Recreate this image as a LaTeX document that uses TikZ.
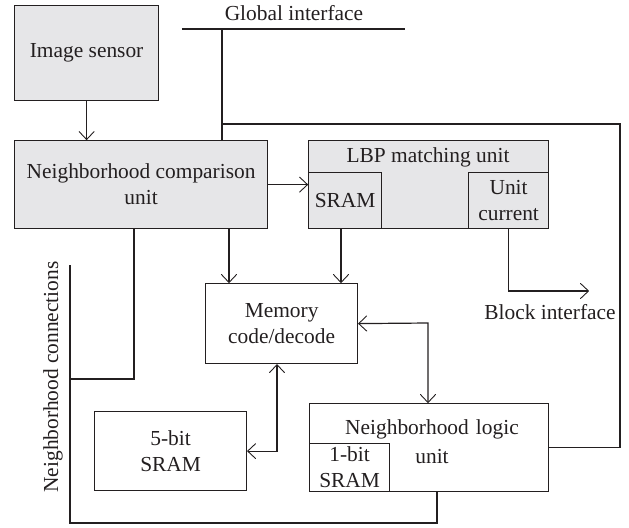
\documentclass[tikz,border=0pt]{standalone}
\usepackage{fontspec}
\setmainfont{Liberation Serif}
\usetikzlibrary{arrows.meta}
\definecolor{boxfill}{RGB}{230,230,232}
\definecolor{ink}{RGB}{35,31,32}
\begin{document}
\begin{tikzpicture}[x=0.5pt,y=-0.5pt,
  font=\fontsize{10.7}{13}\selectfont, color=ink,
  unitbox/.style={draw, line width=0.6pt, inner sep=0pt, anchor=north west, align=center},
  shaded/.style={unitbox, fill=boxfill},
  wire/.style={line width=0.6pt},
  bus/.style={line width=1.1pt},
  tip/.tip={Straight Barb[length=4pt,width=7.5pt,line width=0.45pt,round]},
  arr/.style={wire, -tip},
  biarr/.style={wire, tip-tip},
  txt/.style={inner sep=0pt, align=center}]
\useasboundingbox (0,0) rectangle (629,527);

% blocks
\node[shaded, minimum width=72pt, minimum height=47.5pt] (img) at (14,5) {Image sensor};
\node[shaded, minimum width=126.5pt, minimum height=44pt] (ncu) at (14,140) {Neighborhood comparison\\unit};
\node[shaded, minimum width=120pt, minimum height=44pt] (lbp) at (308,140) {};
\node[txt] (lbptitle) at (428,157) {LBP matching unit};
\node[shaded, minimum width=36.5pt, minimum height=28pt] (sram) at (308,172) {SRAM};
\node[shaded, minimum width=40pt, minimum height=28pt] (cur) at (468,172) {Unit\\current};
\node[unitbox, minimum width=76pt, minimum height=40pt] (mem) at (205,283) {Memory\\code/decode};
\node[unitbox, minimum width=76pt, minimum height=39.5pt] (sram5) at (94,411) {5-bit\\SRAM};
\node[unitbox, minimum width=119.5pt, minimum height=44pt] (nlu) at (309,403) {};
\node[txt, text width=110pt, font=\fontsize{10.7}{14.5}\selectfont] (nlutext) at (432,442) {Neighborhood logic\\unit};
\node[unitbox, minimum width=40pt, minimum height=24pt] (sram1) at (309,443) {1-bit\\SRAM};

% global interface bus
\coordinate (gl) at (182,29);
\coordinate (gr) at (405,29);
\draw[bus] (gl) -- (gr);
\node[txt] (gitext) at (294,13) {Global interface};
\coordinate (gtap) at (222,29);
\coordinate (gcorner) at (222,124);
\coordinate (gright) at (620,124);
\draw[wire] (gtap) -- (gtap |- ncu.north);
\draw[wire] (gcorner) -- (gright) |- (nlu.east);

% data path
\draw[arr] (img.south) -- (img.south |- ncu.north);
\draw[arr] (ncu.east) -- (ncu.east -| lbp.west);
\coordinate (sramtap) at (341,228);
\draw[arr] (sramtap) -- (sramtap |- mem.north);
\coordinate (ncutap) at (229,228);
\draw[arr] (ncutap) -- (ncutap |- mem.north);
\coordinate (blk) at (589,291);
\draw[arr] (cur.south) |- (blk);
\node[txt] (blktext) at (550,312) {Block interface};
\draw[biarr] (mem.south -| 277,0) |- (sram5.east);
\coordinate (mnl) at (428,323);
\draw[biarr] (mem.east) -- (mnl) -- (mnl |- nlu.north);

% neighborhood connections
\coordinate (nbtop) at (70,265);
\coordinate (nbbot) at (70,490);
\coordinate (nbend) at (70,523);
\coordinate (nctap) at (134,228);
\coordinate (nlutap) at (437,491);
\draw[bus] (nbtop) -- (nbbot);
\draw[wire] (nctap) |- (70,379);
\draw[wire] (nbbot) -- (nbend) -| (nlutap);
\node[txt, rotate=90] (nbtext) at (53,377) {Neighborhood connections};
\end{tikzpicture}
\end{document}
